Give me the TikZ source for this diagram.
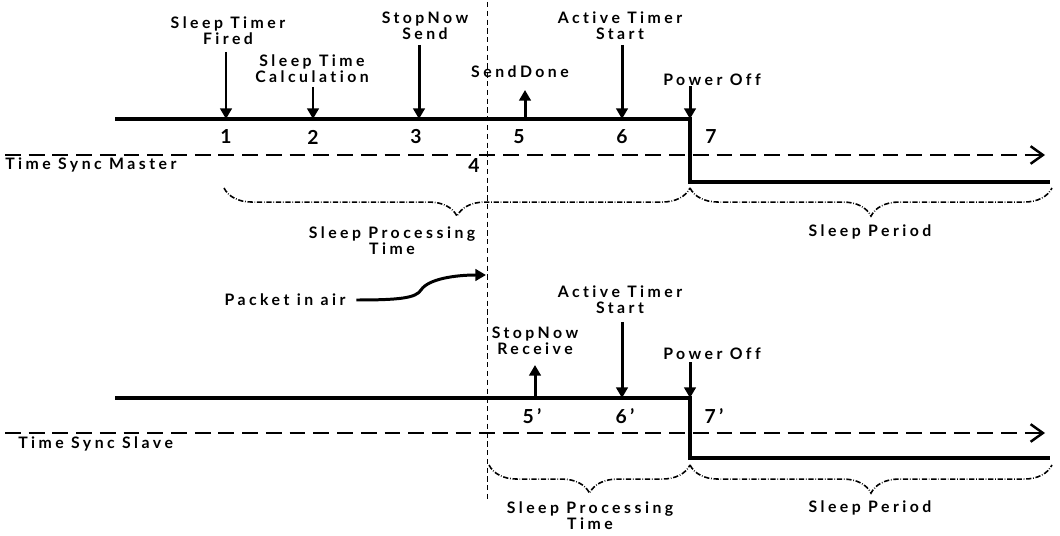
\documentclass[tikz,border=0pt]{standalone}
\usepackage{fontspec}
\setmainfont{Lato}
\newfontfamily\spacedfont[LetterSpace=22,Ligatures=NoCommon]{Lato}
\usetikzlibrary{arrows.meta,positioning,decorations.pathreplacing}

\tikzset{
  lbl/.style={font=\spacedfont\bfseries\fontsize{9}{9}\selectfont,align=center,inner sep=0pt},
  num/.style={font=\bfseries\fontsize{11}{12}\selectfont,inner sep=0pt},
  evt/.style={line width=1.7pt,-{Triangle[length=6pt,width=6.5pt]}},
  tline/.style={line width=2pt},
  stepdown/.style={line width=2.8pt},
  taxis/.style={line width=1.4pt,dash pattern=on 9pt off 4.5pt,
                -{Straight Barb[length=7pt,width=10pt,line width=1.4pt]}},
  period/.style={densely dashdotted,line width=0.9pt,decorate,
                 decoration={brace,mirror,amplitude=16pt}},
}

\begin{document}
\begin{tikzpicture}[x=0.02cm,y=-0.02cm,line cap=butt]
  \useasboundingbox (0,0) rectangle (1060,536);

  % packet boundary
  \draw[densely dashed,thin] (487,2) -- (487,502);

  % ---- master ----
  \coordinate (m0) at (115,119);
  \coordinate (m1) at (226,119);
  \coordinate (m2) at (313,119);
  \coordinate (m3) at (419,119);
  \coordinate (m5) at (525,119);
  \coordinate (m6) at (622,119);
  \coordinate (m7) at (690,119);
  \coordinate (m7low) at (690,182);
  \coordinate (mend) at (1050,182);

  \draw[tline] (m0) -- (m7) -- (m7low) -- (mend);
  \draw[stepdown] (m7) -- (m7low);

  \node[lbl] (fired) at (228,31) {Sleep Timer\\Fired};
  \node[lbl] (calc) at (312,69) {Sleep Time\\Calculation};
  \node[lbl] (send) at (425,26) {StopNow\\Send};
  \node[lbl] (done) at (520,72) {SendDone};
  \node[lbl] (active) at (620,26) {Active Timer\\Start};
  \node[lbl] (poff) at (712,80) {Power Off};

  \coordinate (fired-a) at (226,52);
  \coordinate (calc-a) at (313,87);
  \coordinate (send-a) at (419,45);
  \coordinate (done-a) at (525,90);
  \coordinate (active-a) at (622,45);
  \coordinate (poff-a) at (690,86);

  \draw[evt] (fired-a) -- (m1);
  \draw[evt] (calc-a) -- (m2);
  \draw[evt] (send-a) -- (m3);
  \draw[evt] (m5) -- (done-a);
  \draw[evt] (active-a) -- (m6);
  \draw[evt] (poff-a) -- (m7);

  \node[num] (n1) at (226,137) {1};
  \node[num] (n2) at (313,137) {2};
  \node[num] (n3) at (416,137) {3};
  \node[num] (n4) at (474,166) {4};
  \node[num] (n5) at (519,137) {5};
  \node[num] (n6) at (622,137) {6};
  \node[num] (n7) at (711,137) {7};

  \coordinate (maxis0) at (5,155);
  \coordinate (maxis1) at (1045,155);
  \draw[taxis] (maxis0) -- (maxis1);
  \node[lbl,anchor=west] (master) at (5,165) {Time Sync Master};

  \draw[period] (224,188) -- (690,188);
  \draw[period] (690,188) -- (1052,188);
  \node[lbl] (mproc) at (392,241) {Sleep Processing\\Time};
  \node[lbl] (msleep) at (870,232) {Sleep Period};

  % ---- packet ----
  \node[lbl] (pkt) at (285,300) {Packet in air};
  \coordinate (air) at (486,275);
  \draw[evt] ([xshift=6pt]pkt.east) .. controls (400,300) and (416,298) .. (421,290)
        .. controls (428,279) and (455,275) .. (air);

  % ---- slave ----
  \coordinate (s0) at (115,398);
  \coordinate (s5) at (535,398);
  \coordinate (s6) at (622,398);
  \coordinate (s7) at (690,398);
  \coordinate (s7low) at (690,458);
  \coordinate (send2) at (1050,458);

  \draw[tline] (s0) -- (s7) -- (s7low) -- (send2);
  \draw[stepdown] (s7) -- (s7low);

  \node[lbl] (active2) at (620,300) {Active Timer\\Start};
  \node[lbl] (recv) at (535,341) {StopNow\\Receive};
  \node[lbl] (poff2) at (712,354) {Power Off};

  \coordinate (recv-a) at (535,365);
  \coordinate (active2-a) at (622,322);
  \coordinate (poff2-a) at (690,362);

  \draw[evt] (s5) -- (recv-a);
  \draw[evt] (active2-a) -- (s6);
  \draw[evt] (poff2-a) -- (s7);

  \node[num] (n5s) at (532,416) {5\,'};
  \node[num] (n6s) at (625,416) {6\,'};
  \node[num] (n7s) at (714,416) {7\,'};

  \coordinate (saxis0) at (5,433);
  \coordinate (saxis1) at (1045,433);
  \draw[taxis] (saxis0) -- (saxis1);
  \node[lbl,anchor=west] (slave) at (18,444) {Time Sync Slave};

  \draw[period] (489,465) -- (690,465);
  \draw[period] (690,465) -- (1052,465);
  \node[lbl] (sproc) at (590,516) {Sleep Processing\\Time};
  \node[lbl] (ssleep) at (870,508) {Sleep Period};
\end{tikzpicture}
\end{document}
